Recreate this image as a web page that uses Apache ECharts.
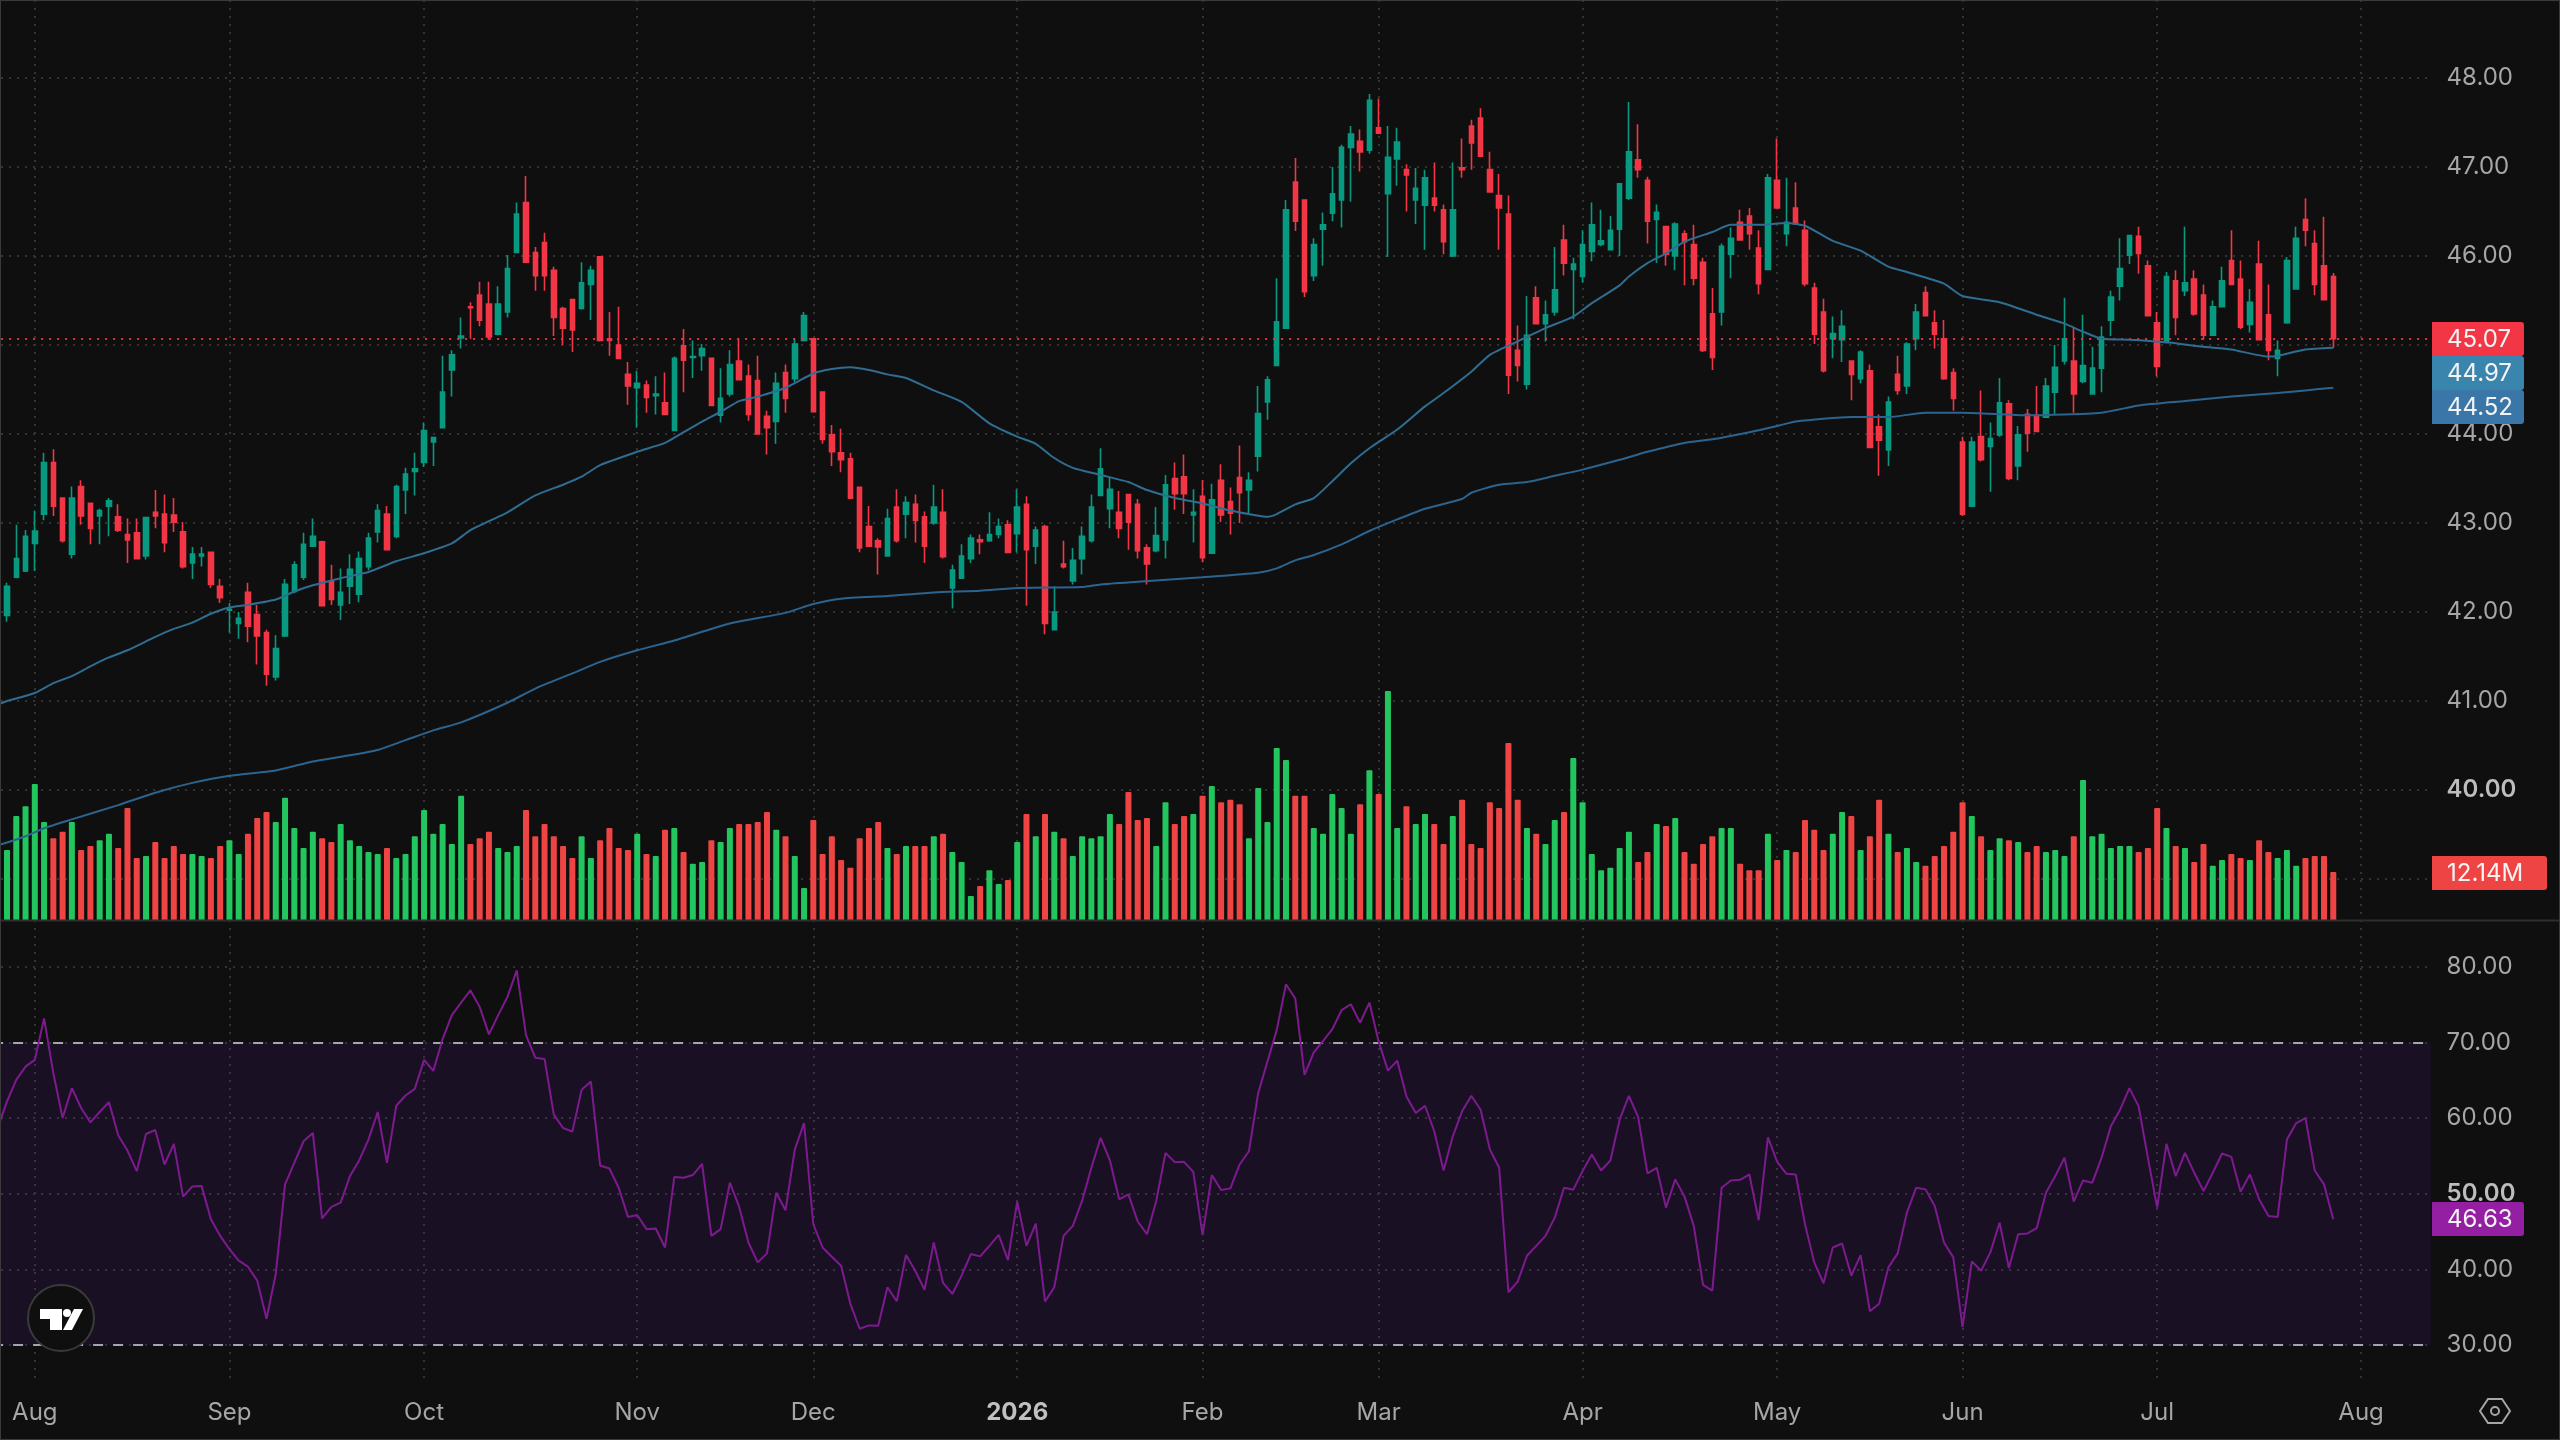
<!DOCTYPE html>
<html>
<head>
<meta charset="utf-8">
<title>Price, volume and RSI</title>
<style>
  html, body { margin: 0; padding: 0; background: #0f0f0f; width: 2560px; height: 1440px; overflow: hidden; }
  /* The canvas starts left of the page so the lead-in slot can run off the edge */
  #chart { position: absolute; left: -20px; top: 0; width: 2580px; height: 1440px; }
</style>
<script src="https://cdn.jsdelivr.net/npm/echarts@6/dist/echarts.min.js"></script>
</head>
<body>
<div id="chart"></div>
<script>
// Daily session data, one entry per trading day
const opens = [
  41.96,42.39,42.46,42.77,43.10,43.68,43.28,42.65,43.41,43.22,
  43.08,43.19,43.07,42.87,42.89,42.63,43.12,43.10,43.09,42.90,
  42.55,42.63,42.67,42.29,42.02,41.87,42.22,41.97,41.77,41.27,
  41.73,42.23,42.39,42.74,42.79,42.35,42.08,42.29,42.20,42.51,
  42.90,43.10,42.85,43.37,43.58,43.68,43.91,44.07,44.72,45.08,
  45.43,45.56,45.46,45.12,45.37,46.04,46.60,46.04,46.15,45.84,
  45.41,45.51,45.41,45.68,45.99,45.07,45.00,44.67,44.52,44.55,
  44.43,44.35,44.04,44.99,44.86,44.88,44.85,44.21,44.45,44.82,
  44.65,44.60,44.20,44.14,44.69,44.62,45.05,45.07,44.47,43.99,
  43.79,43.72,43.40,42.96,42.80,42.63,43.18,43.10,43.21,43.07,
  43.00,43.12,42.27,42.38,42.60,42.81,42.80,42.87,42.98,42.88,
  43.21,42.74,42.96,41.80,42.54,42.35,42.60,42.80,43.31,43.16,
  43.12,43.32,43.21,42.72,42.69,42.81,43.50,43.52,43.09,43.30,
  42.66,43.48,43.24,43.51,43.37,43.75,44.36,44.77,45.19,46.83,
  46.63,45.78,46.30,46.48,46.63,47.22,47.29,47.19,47.44,46.70,
  47.09,46.97,46.63,46.57,46.65,46.52,46.00,46.99,47.46,47.55,
  46.97,46.68,46.47,44.94,44.56,45.53,45.24,45.37,46.18,45.85,
  45.77,46.05,46.13,46.07,46.30,46.65,47.08,46.85,46.41,46.33,
  46.00,46.25,46.13,45.93,45.35,45.37,46.02,46.38,46.45,46.09,
  45.85,46.85,46.25,46.54,46.29,45.64,45.37,45.07,45.06,44.82,
  44.62,44.71,44.08,43.82,44.67,44.54,45.07,45.59,45.25,45.07,
  44.69,43.91,43.19,43.97,43.86,43.99,44.34,43.64,44.22,44.21,
  44.19,44.47,44.82,44.82,44.59,44.45,44.74,45.28,45.66,46.01,
  46.22,45.89,45.25,45.03,45.72,45.61,45.74,45.56,45.11,45.43,
  45.95,45.74,45.23,45.91,45.34,44.85,45.25,45.63,46.41,46.14,
  45.89,45.77
];
const closes = [
  42.29,42.60,42.85,42.91,43.68,43.19,42.80,43.28,43.08,42.94,
  43.14,43.25,42.92,42.81,42.60,43.06,43.08,42.78,43.01,42.51,
  42.65,42.65,42.31,42.16,42.03,41.93,41.84,41.73,41.30,41.59,
  42.31,42.53,42.76,42.85,42.07,42.14,42.22,42.48,42.60,42.83,
  43.14,42.70,43.41,43.55,43.61,44.04,43.96,44.47,44.89,45.10,
  45.42,45.28,45.09,45.46,45.86,46.47,45.93,45.78,45.78,45.31,
  45.19,45.17,45.70,45.84,45.05,45.05,44.85,44.54,44.57,44.41,
  44.45,44.22,44.85,44.83,44.87,44.96,44.32,44.40,44.78,44.61,
  44.22,44.00,44.07,44.57,44.40,45.01,45.33,44.25,43.94,43.80,
  43.71,43.28,42.72,42.74,42.73,43.05,42.80,43.23,43.03,42.74,
  43.18,42.62,42.47,42.63,42.83,42.79,42.87,42.96,42.67,43.18,
  42.70,42.92,41.87,42.00,42.51,42.58,42.85,43.18,43.61,43.38,
  42.94,43.01,42.69,42.54,42.86,43.43,43.33,43.33,43.12,42.61,
  43.26,43.09,43.11,43.34,43.48,44.23,44.61,45.26,46.52,46.39,
  45.60,46.13,46.35,46.70,47.22,47.37,47.17,47.75,47.38,47.11,
  47.28,46.91,46.76,46.88,46.57,46.16,46.52,46.97,47.27,47.12,
  46.72,46.54,44.66,44.77,45.11,45.24,45.34,45.62,45.92,45.91,
  46.13,46.35,46.17,46.29,46.81,47.17,46.97,46.39,46.49,46.02,
  46.36,46.16,45.75,44.94,44.86,46.11,46.20,46.18,46.25,45.69,
  46.88,46.54,46.38,46.36,45.69,45.12,44.71,45.13,45.21,44.67,
  44.92,43.85,43.93,44.36,44.49,45.01,45.37,45.33,45.12,44.62,
  44.40,43.10,43.91,43.71,43.95,44.35,43.50,43.99,44.01,44.03,
  44.54,44.75,45.07,44.45,44.77,44.74,45.09,45.54,45.86,46.23,
  46.03,45.33,44.76,45.77,45.31,45.70,45.35,45.11,45.43,45.72,
  45.68,45.20,45.48,45.06,44.94,44.94,45.95,46.20,46.29,45.68,
  45.51,45.07
];
const highs = [
  42.33,42.98,42.92,43.14,43.79,43.83,43.28,43.41,43.48,43.23,
  43.16,43.28,43.21,43.05,43.05,43.07,43.37,43.32,43.28,43.01,
  42.73,42.73,42.68,42.37,42.10,42.00,42.33,42.08,41.80,41.74,
  42.37,42.57,42.89,43.05,42.80,42.53,42.49,42.65,42.68,42.89,
  43.21,43.19,43.43,43.62,43.79,44.13,43.96,44.88,44.94,45.31,
  45.48,45.71,45.71,45.66,46.01,46.60,46.90,46.10,46.26,45.88,
  45.43,45.52,45.93,45.89,46.00,45.37,45.43,44.81,44.71,44.60,
  44.65,44.69,44.87,45.18,45.05,45.01,44.85,44.74,44.94,45.07,
  44.78,44.88,44.26,44.69,44.78,45.07,45.37,45.07,44.47,44.10,
  44.06,43.79,43.41,43.19,42.83,43.16,43.38,43.30,43.32,43.13,
  43.43,43.38,42.53,42.76,42.87,42.87,43.12,43.05,43.03,43.38,
  43.30,42.96,42.98,42.29,42.80,42.72,42.96,43.32,43.84,43.51,
  43.36,43.32,43.27,42.76,43.18,43.54,43.68,43.77,43.38,43.48,
  43.44,43.66,43.40,43.87,43.57,44.54,44.65,45.75,46.63,47.10,
  46.63,46.20,46.49,47.00,47.25,47.46,47.42,47.82,47.77,47.46,
  47.44,47.03,46.99,46.97,47.05,46.58,47.05,47.32,47.53,47.66,
  47.17,46.92,46.68,45.22,45.55,45.66,45.50,46.10,46.35,45.98,
  46.29,46.60,46.52,46.45,46.81,47.73,47.48,46.89,46.58,46.33,
  46.38,46.29,46.35,45.98,45.64,46.14,46.32,46.52,46.54,46.29,
  46.92,47.32,46.88,46.83,46.40,45.70,45.52,45.32,45.39,44.82,
  44.94,44.78,44.22,44.42,44.88,45.03,45.46,45.66,45.39,45.28,
  44.74,43.97,43.97,44.49,44.13,44.63,44.38,44.09,44.28,44.54,
  44.63,45.00,45.53,45.20,45.34,44.98,45.21,45.61,46.20,46.24,
  46.33,45.95,45.37,45.82,45.84,46.33,45.84,45.68,45.50,45.88,
  46.29,45.95,45.63,46.17,45.68,45.05,45.99,46.33,46.65,46.29,
  46.44,45.81
];
const lows = [
  41.89,42.38,42.45,42.46,43.03,43.08,42.78,42.60,42.98,42.76,
  42.76,42.85,42.90,42.55,42.59,42.59,42.94,42.67,42.90,42.49,
  42.37,42.51,42.27,42.10,41.77,41.70,41.66,41.41,41.17,41.23,
  41.72,42.21,42.36,42.74,42.07,42.08,41.91,42.09,42.11,42.47,
  42.78,42.70,42.83,43.10,43.31,43.63,43.64,44.07,44.42,44.96,
  45.07,45.21,45.06,45.11,45.31,46.04,45.93,45.61,45.61,45.10,
  45.00,44.92,45.40,45.28,45.04,44.88,44.85,44.33,44.07,44.24,
  44.22,44.22,44.04,44.47,44.63,44.71,44.32,44.13,44.42,44.61,
  44.15,44.00,43.77,43.89,44.24,44.58,45.04,44.25,43.89,43.64,
  43.57,43.28,42.67,42.74,42.42,42.63,42.78,42.83,42.78,42.55,
  42.98,42.60,42.04,42.38,42.55,42.65,42.79,42.83,42.67,42.67,
  42.07,42.54,41.75,41.80,42.49,42.31,42.42,42.78,43.31,42.94,
  42.83,42.70,42.60,42.31,42.67,42.60,43.15,43.10,42.78,42.56,
  42.66,43.01,42.87,43.00,43.09,43.58,44.16,44.77,45.19,46.28,
  45.54,45.72,45.89,46.39,46.32,46.61,46.95,47.15,47.38,45.99,
  46.79,46.50,46.36,46.07,46.50,46.02,45.99,46.88,46.97,47.11,
  46.72,46.07,44.45,44.59,44.50,45.24,45.04,45.33,45.78,45.29,
  45.70,45.94,46.11,46.07,46.00,46.63,46.88,46.14,45.92,45.89,
  45.84,45.67,45.67,44.92,44.72,45.22,45.75,46.18,46.07,45.57,
  45.85,46.54,46.11,46.36,45.66,45.01,44.69,44.85,44.81,44.38,
  44.57,43.84,43.53,43.64,44.44,44.45,44.94,45.32,44.96,44.61,
  44.26,43.08,43.19,43.69,43.35,43.97,43.48,43.48,43.80,44.02,
  44.18,44.21,44.78,44.24,44.57,44.45,44.47,45.10,45.50,45.91,
  45.80,45.33,44.65,45.03,45.11,45.55,45.33,45.06,45.10,45.43,
  45.68,45.18,45.14,45.06,44.83,44.65,45.24,45.62,46.11,45.56,
  45.51,44.97
];

// Shares traded, in millions
const volumes = [
  17.7,26.3,28.8,34.4,24.8,20.7,22.3,24.8,17.7,18.7,20.2,21.8,18.2,28.3,15.7,16.2,19.7,15.7,18.7,16.7,
  16.7,16.2,15.7,18.7,20.2,16.7,21.8,25.8,27.3,24.8,30.9,23.3,18.2,22.3,20.7,19.7,24.3,20.2,18.7,17.2,
  16.7,18.2,15.7,16.7,21.2,27.8,21.8,24.3,19.2,31.4,19.2,20.7,22.3,18.2,17.2,18.7,27.8,21.2,24.3,21.2,
  18.7,15.7,21.2,15.7,20.2,23.3,18.2,17.7,21.8,
  16.7,16.2,22.8,23.3,17.2,14.2,14.7,20.2,19.7,23.3,24.3,24.3,24.8,27.3,22.8,21.2,16.2,8.1,25.3,16.7,
  21.2,15.2,13.2,20.7,23.3,24.8,18.2,16.7,18.7,18.7,18.7,21.2,21.8,17.2,14.7,6.1,8.6,12.6,9.1,10.1,
  19.7,26.8,21.2,26.8,22.3,20.7,16.2,21.2,20.7,21.2,26.8,24.3,32.4,25.3,25.8,18.7,29.8,24.3,26.3,26.8,
  31.4,33.9,29.8,30.4,29.3,20.7,33.4,24.8,43.5,
  40.5,31.4,31.4,23.3,21.8,31.9,28.3,21.8,29.3,37.9,31.9,57.9,23.3,28.8,24.3,26.8,24.3,19.2,26.3,30.4,
  19.2,18.2,29.8,28.3,44.8,30.4,23.3,21.8,19.2,25.3,27.3,41.0,29.8,16.7,12.6,13.2,18.2,22.3,14.7,17.2,
  24.3,23.8,25.8,17.2,14.2,19.2,21.2,23.3,23.3,14.2,12.6,12.6,21.8,15.2,17.7,17.2,25.3,22.8,17.7,21.8,
  27.3,26.3,17.7,21.2,30.4,21.8,17.2,18.2,14.7,
  13.7,16.2,18.7,22.3,29.8,26.3,21.2,17.7,20.7,20.2,19.7,17.2,18.7,17.2,17.7,16.2,21.2,35.4,21.2,21.8,
  18.2,18.7,18.7,17.2,18.2,28.3,23.3,18.7,18.2,14.7,19.2,13.7,15.2,16.7,15.7,15.2,20.2,17.2,15.7,17.7,
  13.7,15.7,16.2,16.2,12.14
];

// Relative strength index, one reading per session
const rsiValues = [
  62.19,65.04,66.80,67.68,73.16,65.92,60.00,63.95,61.32,59.43,60.79,62.11,57.72,55.70,52.98,57.89,58.42,53.86,56.58,49.61,
  50.96,51.00,46.62,44.43,42.68,41.14,40.35,38.51,33.46,39.39,51.23,54.08,56.93,58.03,46.75,48.25,48.82,52.32,54.39,57.15,
  60.79,54.08,61.62,62.98,63.86,67.68,66.23,70.44,73.60,75.26,76.89,74.69,71.05,73.60,76.01,79.52,70.96,67.98,67.81,60.44,
  58.68,58.20,63.73,64.82,53.73,53.33,50.79,46.93,47.19,45.31,45.39,42.89,52.19,52.11,52.46,53.95,44.43,45.31,51.45,48.25,
  43.55,40.92,42.11,50.13,47.81,55.83,59.34,45.96,42.89,41.67,40.48,35.44,32.15,
  32.59,32.54,37.63,35.79,41.89,39.82,37.28,43.55,38.20,36.75,39.17,42.02,41.71,43.11,44.56,41.23,48.95,43.11,46.05,35.75,
  37.63,44.43,45.75,49.04,53.42,57.37,54.39,49.25,49.91,46.32,44.65,49.04,55.39,54.17,54.21,52.89,44.52,52.46,50.48,50.70,
  53.86,55.61,63.29,67.46,71.62,77.68,75.79,65.70,68.68,70.18,71.75,74.25,75.04,72.59,75.26,70.09,66.27,67.59,62.85,60.66,
  61.62,58.25,53.07,57.59,60.88,62.94,61.10,55.83,53.42,36.97,38.38,41.80,43.11,44.43,46.84,50.79,50.53,52.98,55.18,53.07,
  54.39,59.78,62.94,60.13,52.68,53.42,48.16,51.89,49.61,45.75,37.94,37.19,
  50.79,51.75,51.84,52.54,46.49,57.46,54.21,52.63,52.54,45.96,40.92,38.16,42.89,43.42,39.17,41.89,34.47,35.44,40.26,42.11,
  47.50,50.79,50.57,48.38,43.55,41.58,32.37,41.05,39.82,42.24,46.18,40.18,44.65,44.74,45.44,50.13,52.32,54.74,48.95,51.75,
  51.45,54.74,58.90,61.10,63.95,61.54,54.74,48.16,56.58,52.32,55.39,52.76,50.35,52.76,55.31,54.87,50.26,52.54,49.25,47.06,
  46.93,57.15,59.34,60.00,53.07,51.23,46.63
];

// Moving averages, sampled at the session numbers listed beside them.
// Session -1 lies just before the first full candle, so the lines run off the left edge.
const fastMaSessions = [-1,0,3,5,7,9,11,13,16,18,20,22,24,26,29,31,33,36,39,42,45,48,50,52,54,57,60,62,64,
  68,71,73,75,77,79,81,84,87,89,91,93,95,97,100,103,106,109,111,113,115,118,121,123,126,129,
  132,134,136,137,139,141,143,145,147,150,153,155,158,160,163,166,169,171,174,175,177,179,181,184,186,189,192,
  194,197,200,203,205,206,209,211,215,219,222,224,226,229,233,237,240,244,245,248,251];
const fastMaValues = [40.96,41.00,41.09,41.20,41.28,41.39,41.49,41.57,41.72,41.81,41.88,41.98,42.05,42.08,42.14,42.23,42.30,42.38,42.45,42.57,42.66,42.77,42.92,43.02,43.12,43.31,43.43,43.52,43.65,
  43.80,43.90,44.02,44.14,44.25,44.37,44.42,44.52,44.68,44.73,44.75,44.72,44.67,44.63,44.49,44.36,44.12,43.97,43.89,43.73,43.62,43.54,43.46,43.37,43.28,43.22,
  43.14,43.10,43.07,43.10,43.21,43.28,43.47,43.67,43.84,44.05,44.31,44.46,44.70,44.89,45.04,45.19,45.32,45.47,45.67,45.77,45.92,46.03,46.16,46.27,46.35,46.35,46.37,
  46.34,46.17,46.06,45.88,45.82,45.79,45.69,45.55,45.48,45.34,45.24,45.15,45.07,45.06,45.03,44.98,44.95,44.87,44.88,44.95,44.97];
const slowMaSessions = [-1,0,2,4,7,12,16,20,24,29,33,37,40,43,46,49,54,57,61,64,68,72,78,84,87,90,95,100,105,109,116,118,122,129,
  135,137,139,141,144,147,150,153,157,158,161,164,167,170,174,177,181,184,188,191,193,199,203,207,211,218,226,230,235,240,245,248,251];
const slowMaValues = [39.38,39.41,39.48,39.57,39.67,39.83,39.97,40.08,40.16,40.22,40.32,40.39,40.45,40.56,40.67,40.76,40.98,41.14,41.31,41.44,41.57,41.68,41.87,41.99,42.09,42.15,42.18,42.22,42.24,42.27,42.28,42.31,42.34,42.39,
  42.44,42.49,42.58,42.64,42.76,42.91,43.04,43.16,43.27,43.34,43.43,43.46,43.53,43.60,43.71,43.80,43.90,43.94,44.02,44.09,44.14,44.19,44.19,44.24,44.24,44.21,44.24,44.32,44.37,44.42,44.46,44.49,44.52];
const priorRsi = 58.7;

// Time axis: label text and the session each label sits on
const monthLabels = ['Aug','Sep','Oct','Nov','Dec','2026','Feb','Mar','Apr','May','Jun','Jul','Aug'];
const monthSessions = [3,24,45,68,87,109,129,148,170,191,211,232,254];
const priceTicks = { min: 39, max: 48, step: 1 };
const rsiTicks = { min: 30, max: 80, step: 10 };
const rsiBandEdges = [30, 70];
const volumeAxisMax = 60;

// Page layout; SHIFT is how far the canvas reaches left of the page
const SHIFT = 20;
const BAND = 9.268;
const LEAD = 1;                // one slot before the first candle, off the left edge
const SLOTS = 263;
const FIRST_BAR_X = 7 + SHIFT;
const PLOT_LEFT = FIRST_BAR_X - BAND * (LEAD + 0.5);
const PLOT_WIDTH = BAND * SLOTS;
const AXIS_FONT = 'Inter, "Noto Sans", sans-serif';
const AXIS_GREY = '#a6a6a6';
const GRID_DOT = '#343434';
const UP = '#089981', DOWN = '#f23645';
const VOL_UP = '#22c55e', VOL_DOWN = '#ef4444';

const sessions = Array.from({ length: SLOTS }, (_, i) => String(i - LEAD));
const candles = opens.map((o, i) => [o, closes[i], lows[i], highs[i]]);
const pairs = (xs, ys) => xs.map((x, i) => [x + LEAD, ys[i]]);
const isUp = i => closes[i] >= opens[i];
const isMonthSlot = slot => monthSessions.includes(slot - LEAD);

const dotted = { color: GRID_DOT, width: 2, type: [2, 6] };
const hiddenX = gridIndex => ({
  type: 'category', gridIndex, data: sessions, boundaryGap: true, show: false
});
const fmt2 = v => v.toFixed(2);

const option = {
  animation: false,
  backgroundColor: '#0f0f0f',
  textStyle: { fontFamily: AXIS_FONT },
  grid: [
    // Backdrop carrying the month gridlines and the time labels
    { left: FIRST_BAR_X - BAND * LEAD, width: BAND * (SLOTS - 1), top: 0, height: 1380 },
    // Price
    { left: PLOT_LEFT, width: PLOT_WIDTH, top: 78, height: 801 },
    // Volume, sharing the price pane's floor
    { left: PLOT_LEFT, width: PLOT_WIDTH, top: 682.8, height: 237.2 },
    // RSI
    { left: PLOT_LEFT, width: PLOT_WIDTH, top: 966.7, height: 378.3 }
  ],
  xAxis: [
    {
      type: 'category', gridIndex: 0, data: sessions, boundaryGap: false,
      axisLine: { show: false }, axisTick: { show: false },
      splitLine: { show: true, interval: isMonthSlot, lineStyle: dotted },
      axisLabel: {
        show: true, margin: 21, fontSize: 24, color: AXIS_GREY, fontFamily: AXIS_FONT,
        interval: isMonthSlot,
        formatter: v => {
          const label = monthLabels[monthSessions.indexOf(Number(v))];
          return label === '2026' ? '{year|' + label + '}' : label;
        },
        rich: { year: { fontSize: 24, fontWeight: 700, color: '#c0c0c0', fontFamily: AXIS_FONT } }
      }
    },
    hiddenX(1), hiddenX(2), hiddenX(3)
  ],
  yAxis: [
    { type: 'value', gridIndex: 0, show: false, min: 0, max: 1, splitLine: { show: false } },
    {
      type: 'value', gridIndex: 1, position: 'right',
      min: priceTicks.min, max: priceTicks.max, interval: priceTicks.step,
      axisLine: { show: false }, axisTick: { show: false },
      splitLine: { show: true, lineStyle: dotted },
      axisLabel: {
        margin: 16, fontSize: 24, color: AXIS_GREY, fontFamily: AXIS_FONT,
        formatter: v => v === 40 ? '{major|' + fmt2(v) + '}' : fmt2(v),
        rich: { major: { fontSize: 24, fontWeight: 600, color: '#bdbdbd', fontFamily: AXIS_FONT } }
      }
    },
    { type: 'value', gridIndex: 2, show: false, min: 0, max: volumeAxisMax, splitLine: { show: false } },
    {
      type: 'value', gridIndex: 3, position: 'right',
      min: rsiTicks.min, max: rsiTicks.max, interval: rsiTicks.step,
      axisLine: { show: false }, axisTick: { show: false },
      splitLine: { show: true, lineStyle: dotted },
      axisLabel: {
        margin: 16, fontSize: 24, color: AXIS_GREY, fontFamily: AXIS_FONT,
        formatter: v => v === 50 ? '{major|' + fmt2(v) + '}' : fmt2(v),
        rich: { major: { fontSize: 24, fontWeight: 600, color: '#bdbdbd', fontFamily: AXIS_FONT } }
      }
    }
  ],
  series: [
    {
      name: 'Volume', type: 'bar', xAxisIndex: 2, yAxisIndex: 2, barWidth: 6, z: 2,
      data: ['-', ...volumes],
      itemStyle: {
        color: p => isUp(p.dataIndex - LEAD) ? VOL_UP : VOL_DOWN,
        borderRadius: [1, 1, 0, 0]
      }
    },
    {
      name: 'Price', type: 'candlestick', xAxisIndex: 1, yAxisIndex: 1, barWidth: 5, z: 3,
      data: [['-', '-', '-', '-'], ...candles],
      itemStyle: { color: UP, color0: DOWN, borderColor: UP, borderColor0: DOWN, borderWidth: 1.6 },
      markLine: {
        silent: true, symbol: 'none', animation: false, z: 4,
        label: { show: false },
        lineStyle: { color: DOWN, width: 2, type: [2, 6], opacity: 0.9 },
        data: [{ yAxis: closes[closes.length - 1] }]
      }
    },
    {
      name: 'MA 50', type: 'line', xAxisIndex: 1, yAxisIndex: 1, z: 5,
      symbol: 'none', smooth: 0.2, data: pairs(fastMaSessions, fastMaValues),
      lineStyle: { color: '#2f6d92', width: 2 }
    },
    {
      name: 'MA 200', type: 'line', xAxisIndex: 1, yAxisIndex: 1, z: 5,
      symbol: 'none', smooth: 0.2, data: pairs(slowMaSessions, slowMaValues),
      lineStyle: { color: '#2c6490', width: 2 }
    },
    {
      name: 'RSI', type: 'line', xAxisIndex: 3, yAxisIndex: 3, z: 5,
      symbol: 'none', data: [priorRsi, ...rsiValues],
      lineStyle: { color: '#7e1a8f', width: 2 },
      markArea: {
        silent: true,
        itemStyle: { color: 'rgba(130,30,230,0.1)' },
        data: [[{ yAxis: rsiBandEdges[0] }, { yAxis: rsiBandEdges[1] }]]
      },
      markLine: {
        silent: true, symbol: 'none', animation: false,
        label: { show: false },
        lineStyle: { color: '#a9a3ae', width: 2, type: [10, 10] },
        data: [{ yAxis: rsiBandEdges[0] }, { yAxis: rsiBandEdges[1] }]
      }
    }
  ],
  graphic: buildOverlay()
};

// Frame, pane divider, last-value badges, logo and settings glyph
function buildOverlay() {
  const last = closes.length - 1;
  const px = x => x + SHIFT;
  const pts = list => list.map(([x, y]) => [px(x), y]);
  const badge = (text, fill, top, height, width) => ([
    { type: 'rect', shape: { x: px(2432), y: top, width, height, r: [0, 3, 3, 0] }, style: { fill }, z: 20 },
    { type: 'text', x: px(2447), y: top + height / 2 + 1, z: 21,
      style: { text, fill: '#f4f4f4', font: '24px ' + AXIS_FONT, verticalAlign: 'middle' } }
  ]);
  return [
    { type: 'line', shape: { x1: px(0), y1: 920.5, x2: px(2560), y2: 920.5 }, style: { stroke: '#2e2e2e', lineWidth: 2 }, z: 6 },
    { type: 'rect', shape: { x: px(0), y: 0, width: 2560, height: 1440 }, style: { fill: 'none', stroke: '#3a3a3a', lineWidth: 2 }, z: 30 },
    ...badge(fmt2(closes[last]), '#f23645', 322, 34, 92),
    ...badge(fmt2(fastMaValues[fastMaValues.length - 1]), '#3a85ad', 356, 34, 92),
    ...badge(fmt2(slowMaValues[slowMaValues.length - 1]), '#3a77a8', 390, 34, 92),
    ...badge(volumes[last].toFixed(2) + 'M', '#ef4444', 856, 34, 115),
    ...badge(fmt2(rsiValues[last]), '#951fa3', 1202, 34, 92),
    { type: 'circle', shape: { cx: px(61), cy: 1318, r: 33 }, style: { fill: '#0f0f0f', stroke: '#3a3a3a', lineWidth: 2 }, z: 22 },
    { type: 'polygon', shape: { points: pts([[40,1309],[62,1309],[62,1330],[50,1330],[50,1319],[40,1319]]) }, style: { fill: '#ffffff' }, z: 23 },
    { type: 'circle', shape: { cx: px(67), cy: 1313, r: 4 }, style: { fill: '#ffffff' }, z: 23 },
    { type: 'polygon', shape: { points: pts([[74,1309],[83,1309],[72,1330],[63,1330]]) }, style: { fill: '#ffffff' }, z: 23 },
    { type: 'polygon', shape: { points: pts([[2480,1411],[2488,1399],[2502,1399],[2510,1411],[2502,1423],[2488,1423]]) }, style: { fill: 'none', stroke: '#a6a6a6', lineWidth: 2 }, z: 23 },
    { type: 'circle', shape: { cx: px(2495), cy: 1411, r: 4 }, style: { fill: 'none', stroke: '#a6a6a6', lineWidth: 2 }, z: 23 }
  ];
}

const chart = echarts.init(document.getElementById('chart'), null, { renderer: 'canvas' });
chart.setOption(option);
</script>
</body>
</html>
